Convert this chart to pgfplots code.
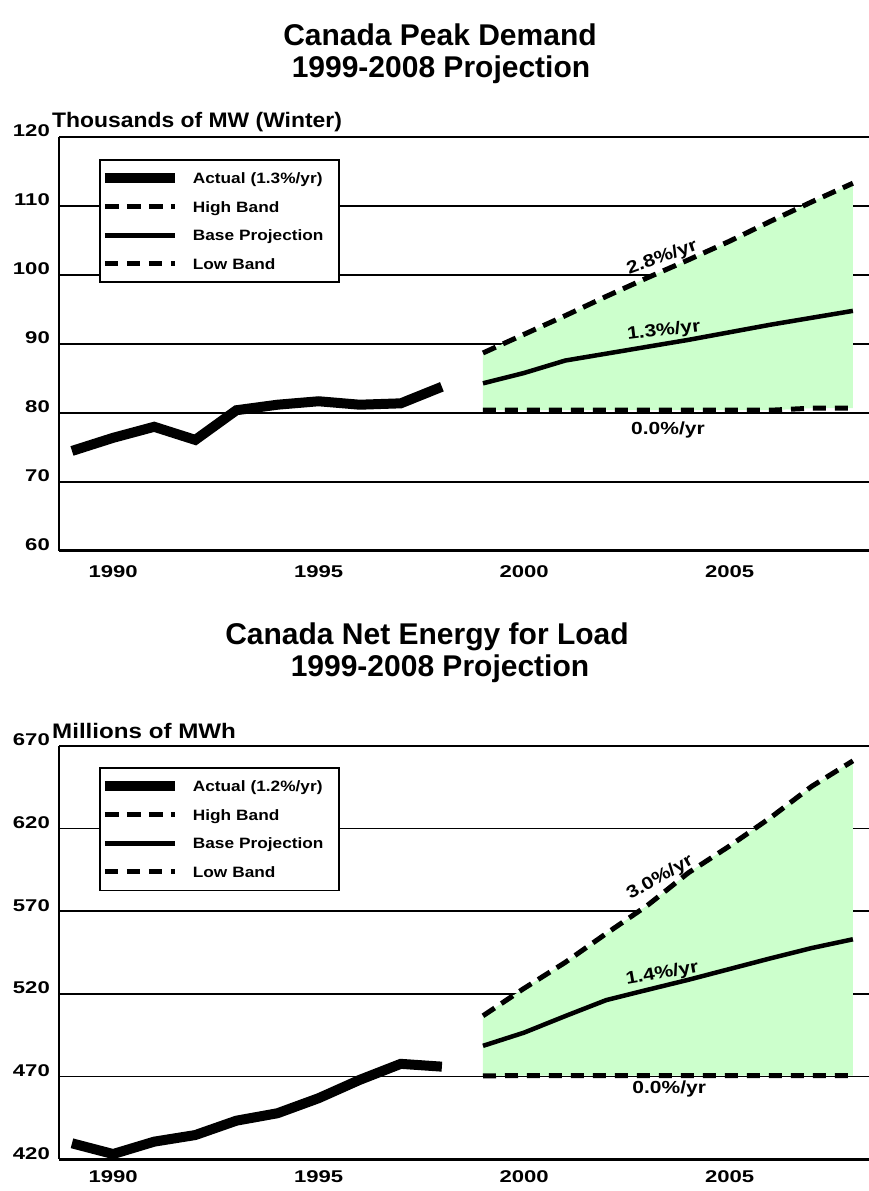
\documentclass[border=0pt]{standalone}
\usepackage{fontspec}
\setmainfont{Liberation Sans}
\newfontfamily\titlefont{Liberation Sans}
\newfontfamily\wfont{Liberation Sans}[FakeStretch=1.15]
\newfontfamily\wfontb{Liberation Sans}[FakeStretch=1.09]
\newfontfamily\lfont{Liberation Sans}[FakeStretch=1.2]
\newfontfamily\tfont{Liberation Sans}[FakeStretch=1.3]
\usepackage{pgfplots}
\pgfplotsset{compat=1.18}
\definecolor{bandgreen}{RGB}{204,255,204}
\tikzset{ratelab/.style={font=\lfont\bfseries\fontsize{17.5}{17.5}\selectfont, inner sep=0pt}}
\pgfplotsset{
 chart/.style={
  scale only axis, width=810pt,
  xmin=1988.684, xmax=2008.392,
  axis x line=bottom, axis y line=left,
  x axis line style={line width=3pt,-},
  y axis line style={line width=2pt,-},
  major tick length=0pt,
  ymajorgrids, grid style={black,line width=1.5pt},
  no markers,
  xtick={1990,1995,2000,2005}, xticklabels={1990,1995,2000,2005},
  xticklabel style={font=\tfont\bfseries\fontsize{17}{17}\selectfont, anchor=north, inner sep=0pt},
  yticklabel style={font=\tfont\bfseries\fontsize{17}{17}\selectfont, anchor=base east, inner sep=0pt, xshift=-9pt},
  legend cell align=left,
  legend style={anchor=north west, draw=black, line width=1.8pt, fill=white,
    inner xsep=0pt, inner ysep=10pt, row sep=11.5pt,
    font=\wfont\bfseries\fontsize{15}{15}\selectfont,
    nodes={inner sep=0pt, text height=14pt, text depth=3pt, anchor=west, text width=146pt, align=left}},
  legend image code/.code={\draw[##1] (0pt,0pt) -- (70pt,0pt); \path (83pt,0pt);},
 },
 actual/.style={black, line width=10pt},
 high/.style={black, line width=5pt, dash pattern=on 14pt off 8pt},
 base/.style={black, line width=4.5pt},
 low/.style={black, line width=5pt, dash pattern=on 13pt off 9pt},
}
\begin{document}
\begin{tikzpicture}
\useasboundingbox (0pt,0pt) rectangle (869pt,1191pt);
% ---------------- Top chart ----------------
\begin{axis}[chart, at={(59pt,640pt)}, anchor=south west, height=414pt,
  ymin=60, ymax=120, ytick={60,70,80,90,100,110,120},
  yticklabels={60,70,80,90,100,110,120},
  xticklabel style={yshift=-14pt},
  legend style={at={(0.0494,0.9469)}}]
\addplot[fill=bandgreen, draw=none, forget plot] coordinates {
 (1999,88.7) (2000,91.4) (2001,94.1) (2002,96.9) (2003,99.6) (2004,102.2)
 (2005,104.9) (2006,107.8) (2007,110.6) (2008,113.3)
 (2008,80.7) (2007,80.7) (2006,80.4) (2005,80.4) (2004,80.4) (2003,80.4)
 (2002,80.4) (2001,80.4) (2000,80.4) (1999,80.4)};
\addplot[actual] coordinates {
 (1989,74.5) (1990,76.4) (1991,78.0) (1992,76.1) (1993,80.4) (1994,81.2)
 (1995,81.7) (1996,81.2) (1997,81.4) (1998,83.8)};
\addlegendentry{Actual (1.3\%/yr)}
\addplot[high] coordinates {
 (1999,88.7) (2000,91.4) (2001,94.1) (2002,96.9) (2003,99.6) (2004,102.2)
 (2005,104.9) (2006,107.8) (2007,110.6) (2008,113.3)};
\addlegendentry{High Band}
\addplot[base] coordinates {
 (1999,84.3) (2000,85.8) (2001,87.6) (2002,88.6) (2003,89.6) (2004,90.6)
 (2005,91.7) (2006,92.8) (2007,93.8) (2008,94.8)};
\addlegendentry{Base Projection}
\addplot[low] coordinates {
 (1999,80.4) (2000,80.4) (2001,80.4) (2002,80.4) (2003,80.4) (2004,80.4)
 (2005,80.4) (2006,80.4) (2007,80.7) (2008,80.7)};
\addlegendentry{Low Band}
\node[ratelab, rotate=20] at (axis cs:2003.36,102.46) {2.8\%/yr};
\node[ratelab, rotate=7] at (axis cs:2003.40,91.88) {1.3\%/yr};
\node[ratelab] at (axis cs:2003.50,77.54) {0.0\%/yr};
\end{axis}
% ---------------- Bottom chart ----------------
\begin{axis}[chart, at={(59pt,32pt)}, anchor=south west, height=413pt,
  ymin=420, ymax=670, ytick={420,470,520,570,620,670},
  yticklabels={420,470,520,570,620,670},
  xticklabel style={yshift=-11pt},
  legend style={at={(0.0494,0.949)}}]
\addplot[fill=bandgreen, draw=none, forget plot] coordinates {
 (1999,506.7) (2000,523.3) (2001,539.0) (2002,556.5) (2003,573.5) (2004,593.3)
 (2005,609.5) (2006,626.7) (2007,645.6) (2008,661.0)
 (2008,470.5) (2007,470.5) (2006,470.5) (2005,470.5) (2004,470.5) (2003,470.5)
 (2002,470.5) (2001,470.5) (2000,470.5) (1999,470.3)};
\addplot[actual] coordinates {
 (1989,429.5) (1990,423.0) (1991,430.5) (1992,434.5) (1993,443.2) (1994,447.7)
 (1995,456.8) (1996,467.9) (1997,477.6) (1998,475.9)};
\addlegendentry{Actual (1.2\%/yr)}
\addplot[high] coordinates {
 (1999,506.7) (2000,523.3) (2001,539.0) (2002,556.5) (2003,573.5) (2004,593.3)
 (2005,609.5) (2006,626.7) (2007,645.6) (2008,661.0)};
\addlegendentry{High Band}
\addplot[base] coordinates {
 (1999,488.5) (2000,496.5) (2001,506.5) (2002,516.2) (2003,522.4) (2004,528.5)
 (2005,535.0) (2006,541.5) (2007,547.7) (2008,553.0)};
\addlegendentry{Base Projection}
\addplot[low] coordinates {
 (1999,470.3) (2000,470.5) (2001,470.5) (2002,470.5) (2003,470.5) (2004,470.5)
 (2005,470.5) (2006,470.5) (2007,470.5) (2008,470.5)};
\addlegendentry{Low Band}
\node[ratelab, rotate=30] at (axis cs:2003.31,590.3) {3.0\%/yr};
\node[ratelab, rotate=10] at (axis cs:2003.36,532.1) {1.4\%/yr};
\node[ratelab] at (axis cs:2003.53,462.4) {0.0\%/yr};
\end{axis}
% ---------------- Titles and unit labels ----------------
\node[anchor=base, inner sep=0pt, font=\titlefont\bfseries\fontsize{30}{30}\selectfont] at (440pt,1145pt) {Canada Peak Demand};
\node[anchor=base, inner sep=0pt, font=\titlefont\bfseries\fontsize{30}{30}\selectfont] at (441pt,1113pt) {1999-2008 Projection};
\node[anchor=base, inner sep=0pt, font=\titlefont\bfseries\fontsize{30}{30}\selectfont] at (427pt,546pt) {Canada Net Energy for Load};
\node[anchor=base, inner sep=0pt, font=\titlefont\bfseries\fontsize{30}{30}\selectfont] at (440pt,514pt) {1999-2008 Projection};
\node[anchor=base west, inner sep=0pt, font=\wfontb\bfseries\fontsize{21}{21}\selectfont] at (52pt,1063pt) {Thousands of MW (Winter)};
\node[anchor=base west, inner sep=0pt, font=\wfont\bfseries\fontsize{21}{21}\selectfont] at (52pt,452.7pt) {Millions of MWh};
\end{tikzpicture}
\end{document}
